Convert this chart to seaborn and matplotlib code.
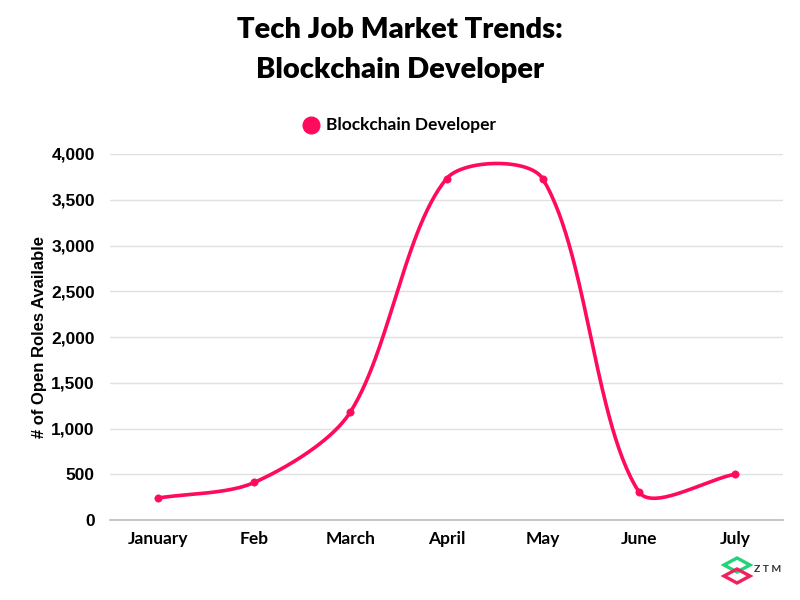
import numpy as np
import pandas as pd
import matplotlib
matplotlib.use("Agg")
import matplotlib.pyplot as plt
import seaborn as sns
from matplotlib.patches import Polygon

months = ["January", "Feb", "March", "April", "May", "June", "July"]
open_roles = [240, 410, 1180, 3730, 3730, 310, 500]
series_name = "Blockchain Developer"
y_ticks = [0, 500, 1000, 1500, 2000, 2500, 3000, 3500, 4000]

PINK = "#FF0A5C"
TENSION = 0.3


def spline_curve(xs, ys, sx, sy, tension=TENSION, n=60):
    # chart.js style cubic spline, distances measured in pixel-like units
    px = np.asarray(xs, float) * sx
    py = np.asarray(ys, float) * sy
    m = len(px)
    c1, c2 = [], []
    for i in range(m):
        p = (px[max(i - 1, 0)], py[max(i - 1, 0)])
        c = (px[i], py[i])
        nx = (px[min(i + 1, m - 1)], py[min(i + 1, m - 1)])
        d01 = np.hypot(c[0] - p[0], c[1] - p[1])
        d12 = np.hypot(nx[0] - c[0], nx[1] - c[1])
        tot = d01 + d12
        fa = tension * d01 / tot if tot else 0
        fb = tension * d12 / tot if tot else 0
        c1.append((c[0] - fa * (nx[0] - p[0]), c[1] - fa * (nx[1] - p[1])))
        c2.append((c[0] + fb * (nx[0] - p[0]), c[1] + fb * (nx[1] - p[1])))
    out_x, out_y = [], []
    t = np.linspace(0, 1, n)
    for i in range(m - 1):
        p0 = np.array([px[i], py[i]])
        p1 = np.array(c2[i])
        p2 = np.array(c1[i + 1])
        p3 = np.array([px[i + 1], py[i + 1]])
        b = ((1 - t) ** 3)[:, None] * p0 + (3 * t * (1 - t) ** 2)[:, None] * p1 \
            + (3 * t ** 2 * (1 - t))[:, None] * p2 + (t ** 3)[:, None] * p3
        out_x.extend(b[:, 0] / sx)
        out_y.extend(b[:, 1] / sy)
    return np.array(out_x), np.array(out_y)


sns.set_theme(style="white")
plt.rcParams["font.family"] = ["Lato", "DejaVu Sans"]
plt.rcParams["text.color"] = "black"

fig = plt.figure(figsize=(8, 6), dpi=100)
ax = fig.add_axes([110 / 800, 80 / 600, 673 / 800, 366 / 600])

idx = np.arange(len(months))
cx, cy = spline_curve(idx, open_roles, 96.2, 0.0915)
curve = pd.DataFrame({"x": cx, "y": cy})
pts = pd.DataFrame({"x": idx, "y": open_roles})

sns.lineplot(data=curve, x="x", y="y", color=PINK, linewidth=2.6, ax=ax,
             sort=False, estimator=None)
sns.scatterplot(data=pts, x="x", y="y", color=PINK, s=28, edgecolor=PINK,
                zorder=5, ax=ax)

ax.set_xlim(-0.5, 6.5)
ax.set_ylim(0, 4000)
ax.set_yticks(y_ticks)
ax.set_yticklabels([f"{v:,}" for v in y_ticks], fontfamily="Liberation Sans",
                   fontweight="bold", fontsize=12.5)
ax.set_xticks(idx)
ax.set_xticklabels(months, fontweight="bold", fontsize=12.5)
ax.tick_params(axis="both", length=0, colors="black")
ax.tick_params(axis="x", pad=8)
ax.tick_params(axis="y", pad=11)
ax.grid(axis="y", color="#E0E0E0", linewidth=1)
for s in ["top", "right", "left"]:
    ax.spines[s].set_visible(False)
ax.spines["bottom"].set_color("#BBBBBB")
ax.spines["bottom"].set_linewidth(1.2)
ax.set_xlabel("")
ax.set_ylabel("# of Open Roles Available", fontweight="bold", fontsize=12,
              fontfamily="Liberation Sans", labelpad=3, color="black")

fig.text(0.5, 0.95, "Tech Job Market Trends:", ha="center", va="center",
         fontsize=21, fontweight="heavy")
fig.text(0.5, 0.883, "Blockchain Developer", ha="center", va="center",
         fontsize=21, fontweight="heavy")

# legend
fig.lines.append(plt.Line2D([311 / 800], [1 - 125 / 600], marker="o",
                            markersize=12, color=PINK, transform=fig.transFigure))
fig.text(326 / 800, 1 - 125 / 600, series_name, ha="left", va="center",
         fontsize=12.5, fontweight="bold")

# ZTM logo
def diamond(cx_, cy_, color):
    w, h = 13 / 800, 7 / 600
    return Polygon([(cx_ - w, cy_), (cx_, cy_ + h), (cx_ + w, cy_), (cx_, cy_ - h)],
                   closed=True, fill=False, edgecolor=color, linewidth=2.4,
                   transform=fig.transFigure)

fig.patches.append(diamond(737 / 800, 1 - 565 / 600, "#22D37A"))
fig.patches.append(diamond(737 / 800, 1 - 576 / 600, "#F0215C"))
fig.text(754 / 800, 1 - 570 / 600, "Z T M", ha="left", va="center",
         fontsize=7.5, fontweight="bold", color="#333333")

fig.savefig("out.png", dpi=100)
